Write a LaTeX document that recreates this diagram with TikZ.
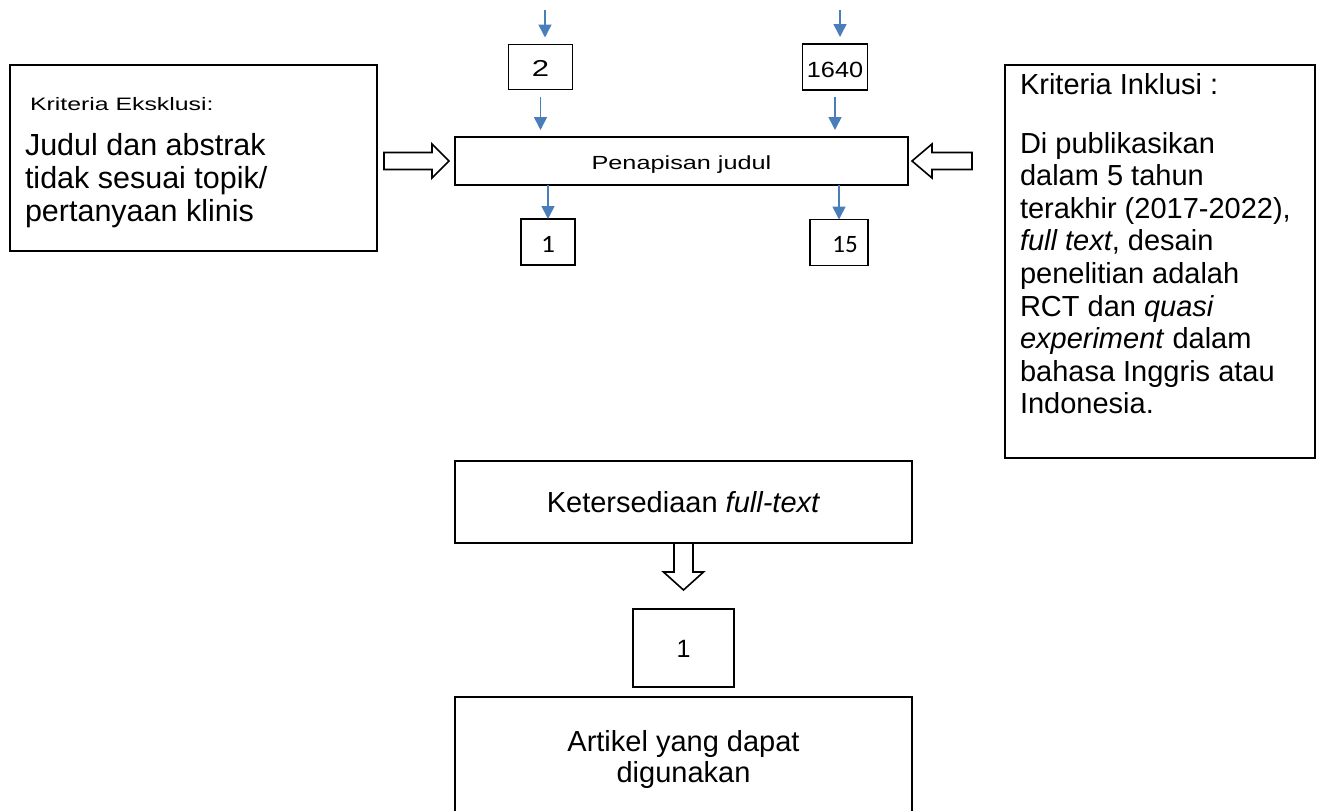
\documentclass[tikz,border=0pt]{standalone}
\usepackage{fontspec}
\setmainfont{Liberation Sans}
\newfontfamily\carl{Carlito}
\usepackage{graphicx}
\usetikzlibrary{arrows.meta}
\definecolor{arrblue}{RGB}{74,126,187}
\newcommand{\wide}[2]{\scalebox{#1}[1]{#2}}
% baseline placed #1 below the node centre, text takes no vertical room
\newcommand{\low}[2]{\raisebox{-#1}[0pt][0pt]{#2}}
\begin{document}
\begin{tikzpicture}[x=1pt,y=-1pt,
  box/.style={draw,line width=1.8pt,inner sep=0pt,outer sep=0pt},
  txt/.style={inner sep=0pt,outer sep=0pt,align=left},
  flow/.style={draw=arrblue,line width=1.6pt,-{Triangle[width=13pt,length=13pt]}},
  hollow/.style={draw,line width=1.6pt,line join=miter}]
\useasboundingbox (0,0) rectangle (1323,811);
\fill[white] (0,0) rectangle (1323,811);

% top row boxes
\node[box,minimum width=64pt,minimum height=45pt] (b2) at (540.5,67) {\fontsize{23}{26}\selectfont\low{9.5pt}{\wide{1.35}{2}}};
\node[box,minimum width=65pt,minimum height=46pt] (b1640) at (835,67) {\fontsize{22}{26}\selectfont\low{10.5pt}{\wide{1.15}{1640}}};
% screening box
\node[box,minimum width=453pt,minimum height=48pt] (pj) at (681.5,161) {\fontsize{19}{23}\selectfont\low{8.5pt}{\wide{1.33}{Penapisan judul}}};
% result boxes
\node[box,minimum width=54pt,minimum height=46pt] (b1) at (548,242) {\carl\fontsize{25}{28}\selectfont\low{10pt}{\wide{1.1}{1}}};
\node[box,minimum width=58pt,minimum height=46pt] (b15) at (839,242.5) {\carl\fontsize{25}{28}\selectfont\low{10pt}{\hspace{12pt}15}};

% exclusion box
\node[box,minimum width=367pt,minimum height=186pt] (excl) at (193.5,158) {};
\node[txt,anchor=north west,font=\fontsize{18}{22}\selectfont] (exclt) at (30,97.5) {\wide{1.38}{Kriteria Eksklusi:}};
\node[txt,anchor=north west,font=\fontsize{30.5}{33}\selectfont] (excltx) at (25,133) {Judul dan abstrak\\tidak sesuai topik/\\pertanyaan klinis};

% inclusion box
\node[box,minimum width=310pt,minimum height=393pt] (incl) at (1160,261.5) {};
\node[txt,anchor=north west,font=\fontsize{29}{32.6}\selectfont] (inclt) at (1020,73.5) {Kriteria Inklusi :\\[26pt]
Di publikasikan\\dalam 5 tahun\\terakhir (2017-2022),\\\textit{full text}, desain\\penelitian adalah\\RCT dan \textit{quasi}\\\textit{experiment} dalam\\bahasa Inggris atau\\Indonesia.};

% full text box
\node[box,minimum width=457pt,minimum height=82pt] (kf) at (683.5,502) {\fontsize{29}{33}\selectfont Ketersediaan \textit{full-text}};
\node[box,minimum width=101pt,minimum height=78pt] (bone) at (683.5,648) {\fontsize{25}{28}\selectfont\low{9.5pt}{1}};
\node[box,minimum width=457pt,minimum height=124pt,align=center,font=\fontsize{29}{31}\selectfont] (art) at (683.5,759) {Artikel yang dapat\\digunakan};

% blue flow arrows
\coordinate (t2) at (545,10);
\coordinate (t1640) at (840,10);
\draw[flow] (t2) -- ([yshift=7pt]t2 |- b2.north);
\draw[flow] (t1640) -- ([yshift=7pt]t1640 |- b1640.north);
\draw[flow] ([yshift=-7pt]b2.south) -- ([yshift=7pt]b2.south |- pj.north);
\draw[flow] ([yshift=-7pt]b1640.south) -- ([yshift=7pt]b1640.south |- pj.north);
\draw[flow] (b1.north |- pj.south) -- (b1.north);
\draw[flow] (b15.north |- pj.south) -- (b15.north);

% hollow arrows
\coordinate (la) at (384,161);
\coordinate (ra) at (972,161);
\draw[hollow] (la) ++(0,-8.5) -- ++(48,0) -- ++(0,-8.5) -- ++(17,17) -- ++(-17,17) -- ++(0,-8.5) -- ++(-48,0) -- cycle;
\draw[hollow] (ra) ++(0,-8.5) -- ++(-40,0) -- ++(0,-8.5) -- ++(-20,17) -- ++(20,17) -- ++(0,-8.5) -- ++(40,0) -- cycle;
\draw[hollow] (kf.south) ++(-9.5,0) -- ++(0,29) -- ++(-10.5,0) -- ++(20,18) -- ++(20,-18) -- ++(-10.5,0) -- ++(0,-29);
\end{tikzpicture}
\end{document}
